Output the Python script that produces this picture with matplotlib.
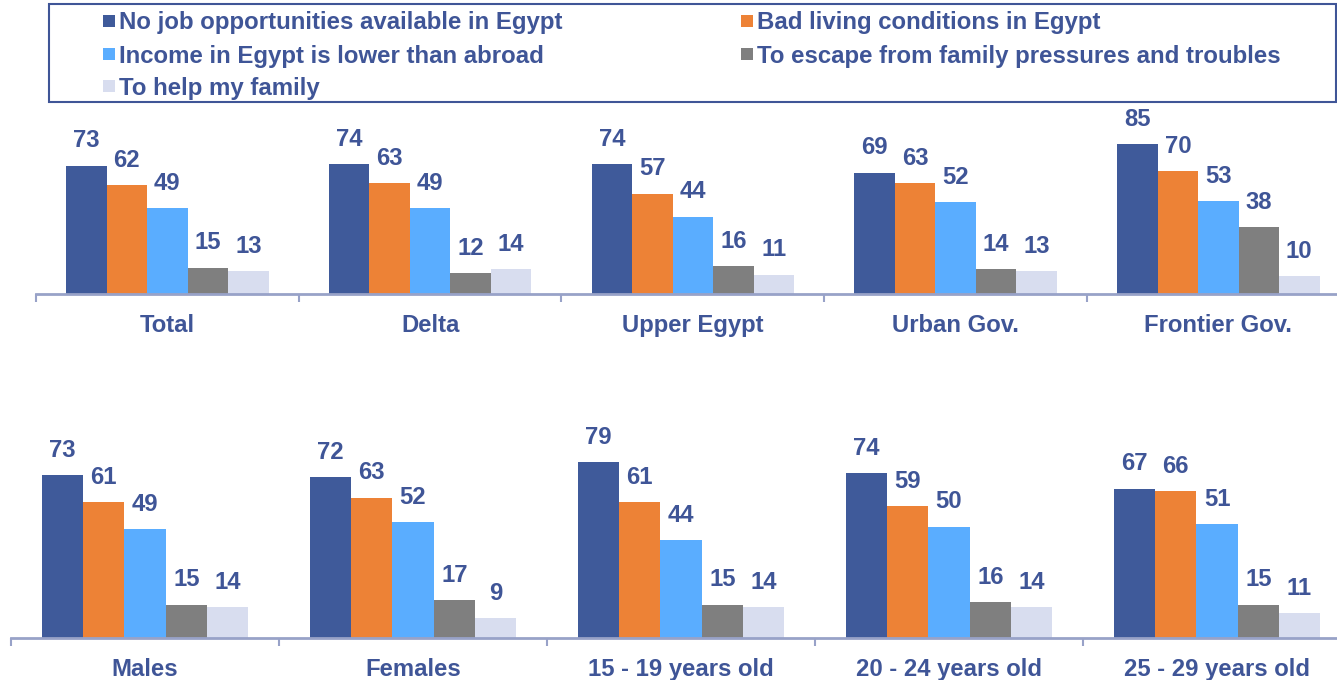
import matplotlib
matplotlib.use("Agg")
import matplotlib.pyplot as plt
from matplotlib.patches import Rectangle
import numpy as np

plt.rcParams['font.family'] = ['Liberation Sans', 'DejaVu Sans']
plt.rcParams['font.weight'] = 'bold'

series = ["No job opportunities available in Egypt",
          "Bad living conditions in Egypt",
          "Income in Egypt is lower than abroad",
          "To escape from family pressures and troubles",
          "To help my family"]
colors = ["#3F5A9A", "#ED8236", "#5AADFF", "#7F7F7F", "#D8DDEF"]

top_cats = ["Total", "Delta", "Upper Egypt", "Urban Gov.", "Frontier Gov."]
top_no_job = [73, 74, 74, 69, 85]
top_bad_living = [62, 63, 57, 63, 70]
top_income = [49, 49, 44, 52, 53]
top_escape = [15, 12, 16, 14, 38]
top_help = [13, 14, 11, 13, 10]

bot_cats = ["Males", "Females", "15 - 19 years old", "20 - 24 years old", "25 - 29 years old"]
bot_no_job = [73, 72, 79, 74, 67]
bot_bad_living = [61, 63, 61, 59, 66]
bot_income = [49, 52, 44, 50, 51]
bot_escape = [15, 17, 15, 16, 15]
bot_help = [14, 9, 14, 14, 11]

TXT = "#3F5597"
AXC = "#98A2C8"
W, H = 1337, 680

fig = plt.figure(figsize=(W / 100, H / 100), dpi=100)


def px_axes(x0, x1, y_base, y_top):
    return fig.add_axes([x0 / W, (H - y_base) / H, (x1 - x0) / W, (y_base - y_top) / H])


def panel(ax, cats, data):
    n = len(cats)
    bw = 0.154
    for k, vals in enumerate(data):
        xs = np.arange(n) + 0.5 + (k - 2) * bw
        bars = ax.bar(xs, vals, width=bw, color=colors[k], linewidth=0)
        for b, v in zip(bars, vals):
            ax.annotate(str(v), (b.get_x() + b.get_width() / 2, v),
                        xytext=(0, 9.5), textcoords='offset points',
                        ha='center', va='bottom', fontsize=17.2,
                        fontweight='bold', color=TXT)
    ax.set_xlim(0, n)
    ax.set_ylim(0, 100)
    for s in ['top', 'right', 'left']:
        ax.spines[s].set_visible(False)
    ax.spines['bottom'].set_color(AXC)
    ax.spines['bottom'].set_linewidth(2)
    ax.set_yticks([])
    ax.set_xticks(np.arange(n))
    ax.tick_params(axis='x', length=6, width=1.5, color=AXC, labelbottom=False)
    for i, c in enumerate(cats):
        ax.annotate(c, (i + 0.5, 0), xycoords=('data', 'axes fraction'),
                    xytext=(0, -22.5), textcoords='offset points',
                    ha='center', va='center', fontsize=17.2,
                    fontweight='bold', color=TXT, annotation_clip=False)
    ax.patch.set_visible(False)


ax1 = px_axes(36, 36 + 5 * 262.75, 294, 118)
panel(ax1, top_cats, [top_no_job, top_bad_living, top_income, top_escape, top_help])

ax2 = px_axes(11, 11 + 5 * 268, 638, 415)
panel(ax2, bot_cats, [bot_no_job, bot_bad_living, bot_income, bot_escape, bot_help])

# legend box
box = Rectangle((49 / W, (H - 102) / H), (1336 - 49) / W, 98 / H,
                transform=fig.transFigure, fill=False, edgecolor=TXT, linewidth=1.5)
fig.add_artist(box)
positions = [(103, 21), (741, 21), (103, 54), (741, 54), (103, 86)]
for (x, y), lab, col in zip(positions, series, colors):
    fig.add_artist(Rectangle((x / W, (H - y - 6) / H), 12 / W, 12 / H,
                             transform=fig.transFigure, color=col, linewidth=0))
    fig.text((x + 16) / W, (H - y - 2) / H, lab, ha='left', va='center',
             fontsize=17.3, fontweight='bold', color=TXT)

fig.savefig("out.png", dpi=100)
